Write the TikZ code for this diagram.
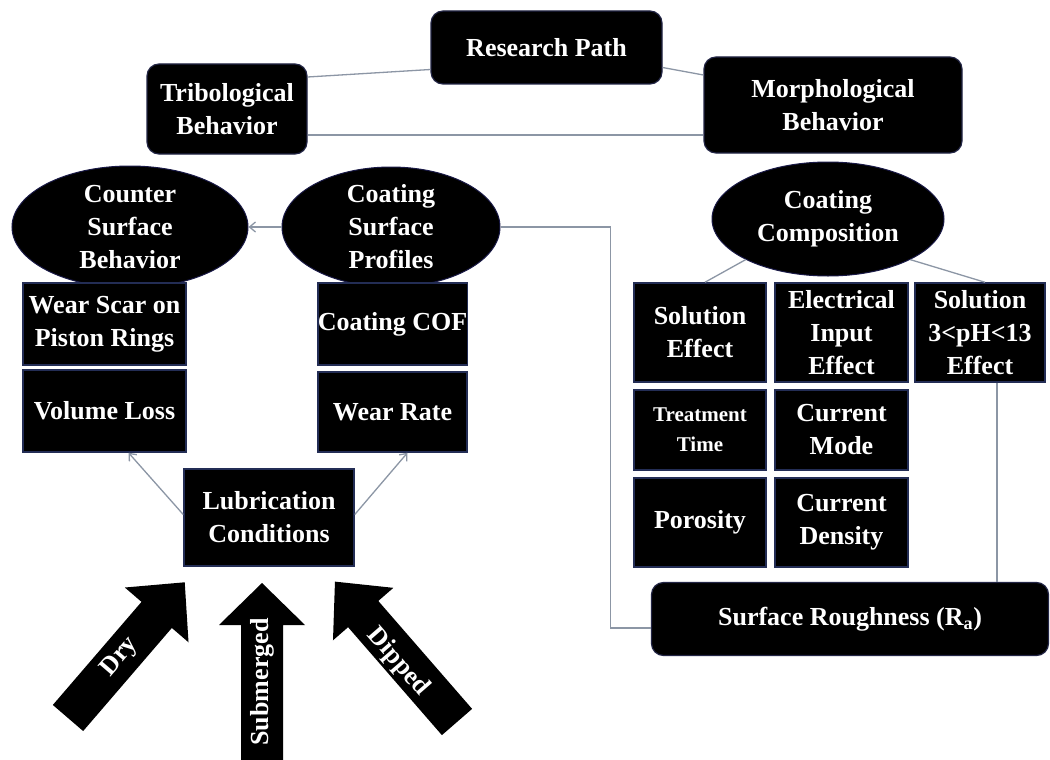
\documentclass[tikz,border=0pt]{standalone}
\usepackage{fontspec}
\setmainfont{Liberation Serif}
\usetikzlibrary{shapes.geometric,arrows.meta,calc}
\begin{document}
\begin{tikzpicture}[x=1pt,y=-1pt,
  lbl/.style={text=white,font=\bfseries\fontsize{26}{33}\selectfont,align=center,inner sep=0pt},
  rbox/.style={lbl,fill=black,draw={rgb,255:red,35;green,38;blue,70},line width=1.2pt,rounded corners=12pt},
  sbox/.style={lbl,fill=black,draw={rgb,255:red,35;green,45;blue,85},line width=1.5pt},
  ebox/.style={lbl,ellipse,fill=black,draw={rgb,255:red,25;green,25;blue,70},line width=1pt},
  conn/.style={draw={rgb,255:red,140;green,150;blue,165},line width=1.3pt},
  arr/.style={conn,-{Straight Barb[length=6pt,width=10pt]}},
  bigarrow/.style={fill=black},
  arrtext/.style={text=white,font=\bfseries\fontsize{26}{30}\selectfont,inner sep=0pt},
]
\useasboundingbox[fill=white] (0,0) rectangle (1050,760);

% top level
\node[rbox,minimum width=231pt,minimum height=73pt] (rp) at (546.5,47.5) {Research Path};
\node[rbox,minimum width=160pt,minimum height=90pt] (trib) at (227,109) {Tribological\\Behavior};
\node[rbox,minimum width=258pt,minimum height=96pt] (morph) at (833,105) {Morphological\\Behavior};

% ellipses
\node[ebox,minimum width=236pt,minimum height=122pt] (csb) at (130,227) {Counter\\Surface\\Behavior};
\node[ebox,minimum width=218pt,minimum height=120pt] (csp) at (391,227) {Coating\\Surface\\Profiles};
\node[ebox,minimum width=232pt,minimum height=114pt] (cc) at (828,219) {Coating\\Composition};

% left boxes
\node[sbox,minimum width=163pt,minimum height=82pt] (ws) at (104.5,324) {Wear Scar on\\Piston Rings};
\node[sbox,minimum width=163pt,minimum height=82pt] (vl) at (104.5,411) {Volume Loss};
\node[sbox,minimum width=149pt,minimum height=82pt] (cof) at (392.5,324) {Coating COF};
\node[sbox,minimum width=149pt,minimum height=80pt] (wr) at (392.5,412) {Wear Rate};
\node[sbox,minimum width=170pt,minimum height=97pt] (lub) at (269,517.5) {Lubrication\\Conditions};

% right boxes
\node[sbox,minimum width=132pt,minimum height=99pt] (se) at (700,332.5) {Solution\\Effect};
\node[sbox,minimum width=133pt,minimum height=99pt] (ei) at (841.5,332.5) {Electrical\\Input\\Effect};
\node[sbox,minimum width=130pt,minimum height=99pt] (ph) at (980,332.5) {Solution\\3{\textless}pH{\textless}13\\Effect};
\node[sbox,minimum width=132pt,minimum height=80pt,font=\bfseries\fontsize{21}{30}\selectfont] (tt) at (700,430) {Treatment\\Time};
\node[sbox,minimum width=133pt,minimum height=80pt] (cm) at (841.5,430) {Current\\Mode};
\node[sbox,minimum width=132pt,minimum height=89pt] (por) at (700,522.5) {Porosity};
\node[sbox,minimum width=133pt,minimum height=89pt] (cd) at (841.5,522.5) {Current\\Density};
\node[rbox,minimum width=397pt,minimum height=73pt] (sr) at (850,619) {Surface Roughness (R\textsubscript{a})};

% connectors
\draw[conn] ([yshift=-22pt]rp.west) -- ([yshift=32pt]trib.east);
\draw[conn] ([yshift=-20pt]rp.east) -- ([yshift=30pt]morph.west);
\draw[conn] ([yshift=-26pt]trib.east) -- ([yshift=-30pt]morph.west);
\draw[arr] (csp.west) -- (csb.east);
\draw[conn] (csp.east) -- ++(110,0) |- ([yshift=-9pt]sr.west);
\draw[conn] (cc.south west) -- ([xshift=5pt]se.north);
\draw[conn] (cc.south east) -- ([xshift=5pt]ph.north);
\draw[conn] ([xshift=17pt]ph.south) -- ([xshift=17pt]ph.south |- sr.north);
\draw[arr] ([yshift=3pt]lub.west) -- ([xshift=24pt]vl.south);
\draw[arr] ([yshift=3pt]lub.east) -- ([xshift=15pt]wr.south);

% block arrows
\begin{scope}[shift={(68,718)},rotate=49.3]
  \fill[bigarrow] (0,-20) -- (136,-20) -- (136,-42) -- (179,0) -- (136,42) -- (136,20) -- (0,20) -- cycle;
\end{scope}
\begin{scope}[shift={(262,762)},rotate=90]
  \fill[bigarrow] (0,-21) -- (137,-21) -- (137,-43) -- (179,0) -- (137,43) -- (137,21) -- (0,21) -- cycle;
\end{scope}
\begin{scope}[shift={(457,722)},rotate=131]
  \fill[bigarrow] (0,-20) -- (143,-20) -- (143,-40) -- (186,0) -- (143,40) -- (143,20) -- (0,20) -- cycle;
\end{scope}
\node[arrtext,rotate=49.3] (dry) at (120,657) {Dry};
\node[arrtext,rotate=90] (sub) at (262,682) {Submerged};
\node[arrtext,rotate=-49] (dip) at (398,662) {Dipped};
\end{tikzpicture}
\end{document}
